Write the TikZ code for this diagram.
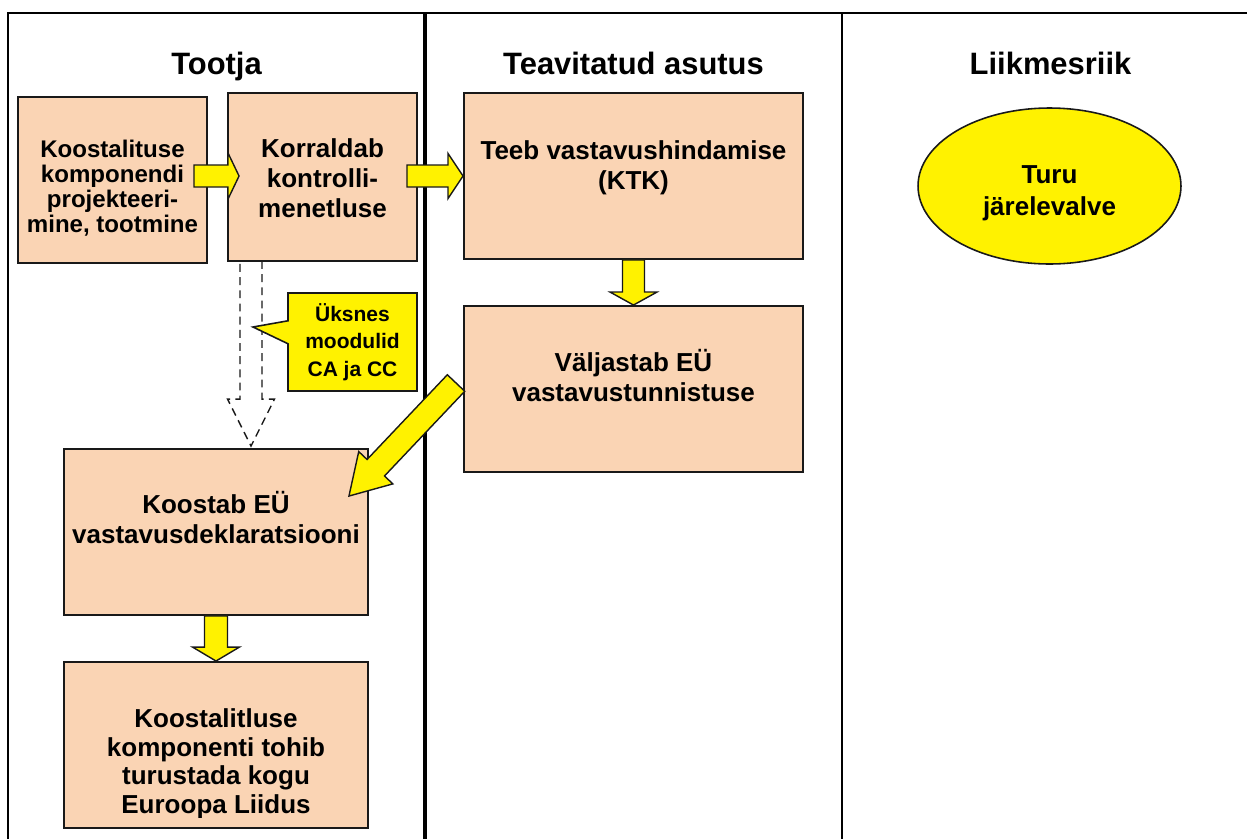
\documentclass[tikz,border=0pt]{standalone}
\usepackage{fontspec}
\setmainfont{Liberation Sans}
\usetikzlibrary{calc,fit,shapes.geometric,shapes.callouts}
\definecolor{peach}{RGB}{250,212,180}
\newcommand{\capstrut}{\rule{0pt}{0.95em}}
% block arrow: [opts]{tail}{tip}{shaft half}{head half}{head length}
\newcommand{\fatarrow}[6][]{%
  \draw[fatarr,#1] let \p1=(#2), \p2=(#3), \n1={atan2(\y2-\y1,\x2-\x1)} in
    ($(\p1)+({\n1+90}:#4)$) --
    ($(\p2)+({\n1+180}:#6)+({\n1+90}:#4)$) --
    ($(\p2)+({\n1+180}:#6)+({\n1+90}:#5)$) --
    (\p2) --
    ($(\p2)+({\n1+180}:#6)+({\n1-90}:#5)$) --
    ($(\p2)+({\n1+180}:#6)+({\n1-90}:#4)$) --
    ($(\p1)+({\n1-90}:#4)$) -- cycle;}

\begin{document}
\begin{tikzpicture}[x=0.02cm,y=-0.02cm]
\tikzstyle{box}=[draw=black!90,line width=1.1pt,fill=peach,inner sep=0pt]
\tikzstyle{txt}=[align=center,inner sep=0pt,anchor=north,font=\bfseries\fontsize{14.8}{17.2}\selectfont]
\tikzstyle{title}=[anchor=base,font=\bfseries\fontsize{17.6}{20}\selectfont]
\tikzstyle{fatarr}=[draw=black!90,line width=0.8pt,fill=yellow,line join=miter]
\useasboundingbox (0,0) rectangle (1247,839);

% columns
\draw[line width=1.1pt] (8,839) -- (8,13) -- (1247,13);
\draw[line width=2.3pt] (425,13) -- (425,839);
\draw[line width=1.3pt] (842,13) -- (842,839);
\node[title] (tootja) at (216.5,74) {Tootja};
\node[title] (asutus) at (633.5,74) {Teavitatud asutus};
\node[title] (riik) at (1050.5,74) {Liikmesriik};

% boxes
\node[box,fit={(18,97) (207,263)}] (proj) {};
\node[txt,font=\bfseries\fontsize{13.7}{14.2}\selectfont] (projt) at (112.5,134.2)
  {\capstrut Koostalituse\\komponendi\\projekteeri-\\mine, tootmine};
\node[box,fit={(228,93) (417,261)}] (ctrl) {};
\node[txt] (ctrlt) at (322.5,132.3) {\capstrut Korraldab\\kontrolli-\\menetluse};
\node[box,fit={(464,93) (803,259)}] (test) {};
\node[txt] (testt) at (633.5,134.3) {\capstrut Teeb vastavushindamise\\(KTK)};
\node[box,fit={(464,306) (803,472)}] (cert) {};
\node[txt] (certt) at (633.5,346.3) {\capstrut Väljastab EÜ\\vastavustunnistuse};
\node[box,fit={(64,449) (368,615)}] (decl) {};
\node[txt] (declt) at (216,488.3) {\capstrut Koostab EÜ\\vastavusdeklaratsiooni};
\node[box,fit={(64,662) (368,828)}] (mark) {};
\begin{scope}
\clip (64,662) rectangle (368,817);
\node[txt,font=\bfseries\fontsize{14.8}{16.4}\selectfont] (markt) at (216,702.3)
  {\capstrut Koostalitluse\\komponenti tohib\\turustada kogu\\Euroopa Liidus};
\end{scope}
\node[draw=black!90,line width=0.9pt,fill=yellow,ellipse,minimum width=5.26cm,minimum height=3.12cm,
  inner sep=0pt,align=center,font=\bfseries\fontsize{14.8}{18.2}\selectfont] (valve) at (1049.5,186)
  {\rule{0pt}{1.21em}Turu\\järelevalve};

% arrows
\fatarrow{$(proj.east)+(-14,-4)$}{$(ctrl.west)+(12,-1)$}{0.22cm}{0.46cm}{0.22cm}
\fatarrow{$(ctrl.east)+(-11,-1)$}{test.west}{0.22cm}{0.45cm}{0.3cm}
\fatarrow{test.south}{cert.north}{0.22cm}{0.47cm}{0.26cm}
\fatarrow{decl.south}{mark.north}{0.23cm}{0.47cm}{0.28cm}
\fatarrow{$(cert.west)+(-7,-6)$}{$(decl.north east)+(-20,48)$}{0.24cm}{0.47cm}{0.78cm}
\fatarrow[fill=none,dash pattern=on 4.5pt off 3pt]{$(ctrl.south west)+(24,-1)$}{$(decl.north west)+(188,-2)$}{0.22cm}{0.47cm}{0.94cm}

% note
\coordinate (hint) at (253,327);
\node[rectangle callout,draw=black!90,line width=0.9pt,fill=yellow,minimum width=2.58cm,minimum height=1.96cm,
  inner sep=0pt,align=center,callout absolute pointer={(hint)},callout pointer width=0.46cm,
  font=\bfseries\fontsize{11.95}{15.6}\selectfont] (note) at (352.5,342) {Üksnes\\moodulid\\CA ja CC};
\end{tikzpicture}
\end{document}
